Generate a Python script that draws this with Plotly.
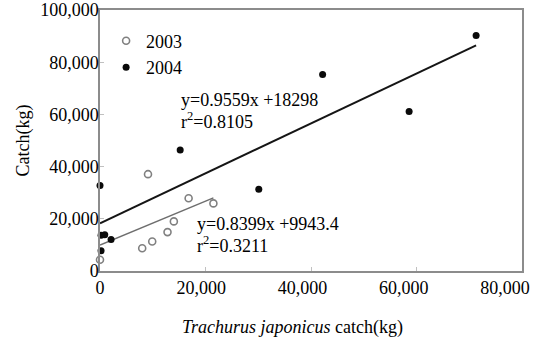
import plotly.graph_objects as go

# ---- data ----
years = ["2003", "2004"]
x2003 = [0, 8000, 9100, 9900, 12800, 14000, 16800, 21500]
y2003 = [4300, 8700, 37100, 11300, 14900, 19000, 27900, 25900]
x2004 = [71300, 42200, 58600, 15200, 30100, 0, 200, 900, 2100, 200]
y2004 = [90200, 75300, 61100, 46400, 31300, 32800, 13700, 13900, 12100, 7800]

slope2003, intercept2003, r2_2003 = 0.8399, 9943.4, 0.3211
slope2004, intercept2004, r2_2004 = 0.9559, 18298, 0.8105

x_ticks = [0, 20000, 40000, 60000, 80000]
y_ticks = [0, 20000, 40000, 60000, 80000, 100000]

FONT = "Liberation Serif"


def fit_line(xs, slope, intercept):
    xa = [0, max(xs)]
    return xa, [slope * v + intercept for v in xa]


fig = go.Figure()

lx, ly = fit_line(x2004, slope2004, intercept2004)
fig.add_trace(go.Scatter(x=lx, y=ly, mode="lines", line=dict(color="#151515", width=2),
                         showlegend=False, hoverinfo="skip"))
lx, ly = fit_line(x2003, slope2003, intercept2003)
fig.add_trace(go.Scatter(x=lx, y=ly, mode="lines", line=dict(color="#6e6e6e", width=1.5),
                         showlegend=False, hoverinfo="skip"))

fig.add_trace(go.Scatter(x=x2003, y=y2003, mode="markers", name=years[0], cliponaxis=False,
                         marker=dict(symbol="circle-open", size=7, color="#808080",
                                     line=dict(width=1.6, color="#808080"))))
fig.add_trace(go.Scatter(x=x2004, y=y2004, mode="markers", name=years[1], cliponaxis=False,
                         marker=dict(symbol="circle", size=7, color="#0a0a0a")))

# carrier for the tick-label axis
fig.add_trace(go.Scatter(x=[], y=[], xaxis="x2", showlegend=False, hoverinfo="skip"))

ann = [
    dict(x=15000, y=65500, text=f"y={slope2004}x +{intercept2004}"),
    dict(x=15000, y=57600, text=f"r<sup>2</sup>={r2_2004}"),
    dict(x=18000, y=18000, text=f"y={slope2003}x +{intercept2003}"),
    dict(x=18000, y=10300, text=f"r<sup>2</sup>={r2_2003}"),
]
annotations = [dict(a, xref="x", yref="y", xanchor="left", yanchor="middle", showarrow=False,
                    font=dict(family=FONT, size=18, color="#000")) for a in ann]
annotations.append(dict(text="<i>Trachurus japonicus</i> catch(kg)", xref="paper", yref="paper",
                        x=0.457, y=-0.215, xanchor="center", yanchor="middle", showarrow=False,
                        font=dict(family=FONT, size=18, color="#000")))

fig.update_layout(
    width=539, height=341,
    margin=dict(l=100, r=17, t=10, b=70, autoexpand=False),
    paper_bgcolor="white", plot_bgcolor="white",
    font=dict(family=FONT, size=18, color="#000"),
    showlegend=True,
    legend=dict(x=0.0145, y=0.952, xanchor="left", yanchor="top", bgcolor="rgba(0,0,0,0)",
                borderwidth=0, font=dict(family=FONT, size=18), tracegroupgap=0),
    xaxis=dict(range=[0, 80000], showline=True, linecolor="#8c8c8c", linewidth=1.5, mirror=True,
               ticks="inside", ticklen=4, tickcolor="#c0c0c0", tickvals=x_ticks,
               showticklabels=False, showgrid=False, zeroline=False, automargin=False),
    xaxis2=dict(overlaying="x", anchor="y", side="bottom", range=[0, 83350], tickvals=x_ticks,
                tickformat=",d", showline=False, ticks="", showgrid=False, zeroline=False,
                automargin=False, ticklabeloverflow="allow",
                tickfont=dict(family=FONT, size=18, color="#000"), ticklabelstandoff=4),
    yaxis=dict(range=[0, 100000], showline=True, linecolor="#8c8c8c", linewidth=1.5, mirror=True,
               ticks="inside", ticklen=4, tickcolor="#c0c0c0", tickvals=y_ticks, tickformat=",d",
               showgrid=False, zeroline=False, automargin=False, ticklabelstandoff=-4,
               tickfont=dict(family=FONT, size=18, color="#000"),
               title=dict(text="Catch(kg)", font=dict(family=FONT, size=18), standoff=6)),
    annotations=annotations,
)

fig.write_html("out.html", config={"displayModeBar": False},
               post_script="document.body.style.margin='0';")
